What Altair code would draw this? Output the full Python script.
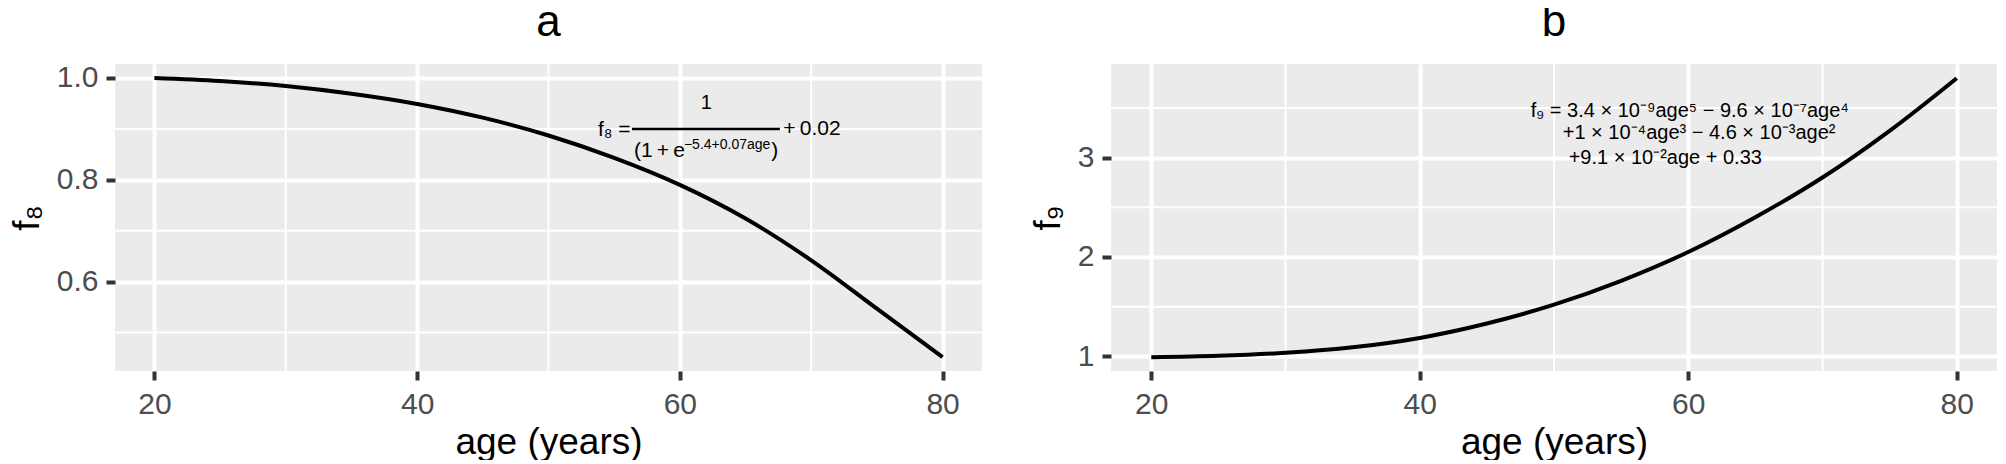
import altair as alt
import pandas as pd

# ---- data ----
ages = [20, 25, 30, 35, 40, 45, 50, 55, 60, 65, 70, 75, 80]
f8_values = [1.000, 0.994, 0.984, 0.969, 0.949, 0.922, 0.887, 0.843, 0.790, 0.724, 0.642, 0.547, 0.452]
f9_values = [0.99, 1.005, 1.035, 1.09, 1.185, 1.33, 1.52, 1.76, 2.05, 2.40, 2.80, 3.27, 3.80]

x_ticks = [20, 40, 60, 80]
x_minor = [30, 50, 70]
a_y_ticks = [0.6, 0.8, 1.0]
a_y_minor = [0.5, 0.7, 0.9]
b_y_ticks = [1, 2, 3]
b_y_minor = [1.5, 2.5, 3.5]

FONT = "Liberation Sans"
GRID = "white"

df_a = pd.DataFrame({"age": ages, "f": f8_values})
df_b = pd.DataFrame({"age": ages, "f": f9_values})

xs = alt.Scale(domain=[17, 83], nice=False, zero=False)
ys_a = alt.Scale(domain=[0.4246, 1.0274], nice=False, zero=False)
ys_b = alt.Scale(domain=[0.852, 3.943], nice=False, zero=False)

XAXIS = alt.Axis(values=x_ticks, title="age (years)", grid=True, format="d")


def panel(df, ys, yaxis, yminor, title, annotations, w, h):
    def X(f):
        return alt.X(f, scale=xs, axis=XAXIS)

    def Y(f):
        return alt.Y(f, scale=ys, axis=yaxis)

    line = alt.Chart(df).mark_line(color="black", strokeWidth=4, interpolate="catmull-rom").encode(
        x=X("age:Q"), y=Y("f:Q"))
    vminor = alt.Chart(pd.DataFrame({"v": x_minor})).mark_rule(color=GRID, strokeWidth=2).encode(
        x=X("v:Q"))
    hminor = alt.Chart(pd.DataFrame({"v": yminor})).mark_rule(color=GRID, strokeWidth=2).encode(
        y=Y("v:Q"))
    ann = [a(X, Y) for a in annotations]
    return alt.layer(vminor, hminor, line, *ann).properties(
        width=w, height=h,
        title=alt.TitleParams(title, baseline="alphabetic", offset=-17))


def text_layer(df, size, align="left"):
    def make(X, Y):
        return alt.Chart(df).mark_text(font=FONT, fontSize=size, align=align, baseline="alphabetic",
                                       color="black").encode(x=X("x:Q"), y=Y("y:Q"), text="t:N")
    return make


def bar_layer(df):
    def make(X, Y):
        return alt.Chart(df).mark_rule(color="black", strokeWidth=2.5).encode(
            x=X("x:Q"), x2="x2:Q", y=Y("y:Q"))
    return make


# ---- panel a annotation (fraction) ----
a_main = pd.DataFrame({"x": [53.76, 67.87], "y": [0.8867, 0.888], "t": ["f\u2088 =", "+\u20090.02"]})
a_num = pd.DataFrame({"x": [62.02], "y": [0.939], "t": ["1"]})
a_den = pd.DataFrame({"x": [56.5, 66.95], "y": [0.844, 0.844], "t": ["(1\u2009+\u2009e", ")"]})
a_sup = pd.DataFrame({"x": [60.31], "y": [0.860], "t": ["\u22125.4+0.07age"]})
a_bar = pd.DataFrame({"x": [56.35], "x2": [67.61], "y": [0.8997]})

ann_a = [
    text_layer(a_main, 21),
    text_layer(a_num, 20, "center"),
    text_layer(a_den, 21),
    text_layer(a_sup, 14),
    bar_layer(a_bar),
]

# ---- panel b annotation (polynomial) ----
b_lines = pd.DataFrame({
    "x": [48.27, 50.65, 51.09],
    "y": [3.41, 3.19, 2.94],
    "t": [
        "f\u2089 = 3.4 \u00d7 10\u207b\u2079age\u2075 \u2212 9.6 \u00d7 10\u207b\u2077age\u2074",
        "+1 \u00d7 10\u207b\u2074age\u00b3 \u2212 4.6 \u00d7 10\u207b\u00b3age\u00b2",
        "+9.1 \u00d7 10\u207b\u00b2age + 0.33",
    ],
})
ann_b = [text_layer(b_lines, 20)]

AY_A = alt.Axis(values=a_y_ticks, title="f\u2088", grid=True, format=".1f")
AY_B = alt.Axis(values=b_y_ticks, title="f\u2089", grid=True, format="d")

pa = panel(df_a, ys_a, AY_A, a_y_minor, "a", ann_a, 867, 307)
pb = panel(df_b, ys_b, AY_B, b_y_minor, "b", ann_b, 886, 307)

chart = alt.hconcat(pa, pb, spacing=46).properties(
    padding={"left": 0, "top": -8, "right": 0, "bottom": 0}
).configure_view(
    fill="#EBEBEB", stroke=None
).configure_axis(
    domain=False,
    gridColor=GRID,
    gridWidth=4,
    tickColor="#333333",
    tickSize=9,
    tickWidth=4,
    labelFont=FONT,
    labelFontSize=30,
    labelColor="#4D4D4D",
    labelPadding=8,
    titleFont=FONT,
    titleFontSize=37,
    titleFontWeight="normal",
    titleColor="black",
).configure_axisX(titlePadding=5, labelPadding=9).configure_axisY(titlePadding=10).configure_title(
    font=FONT, fontSize=44, fontWeight="normal", anchor="middle", color="black"
)

chart.save("out.html", embed_options={"renderer": "svg", "actions": False})
